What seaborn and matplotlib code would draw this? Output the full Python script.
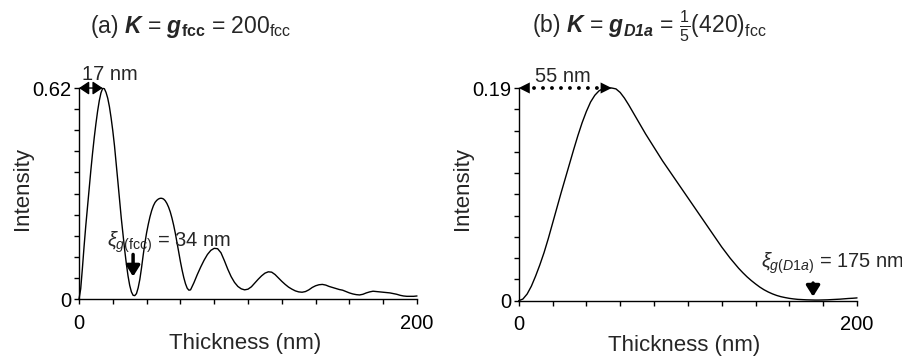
import numpy as np
import matplotlib
matplotlib.use('Agg')
import matplotlib.pyplot as plt
import seaborn as sns

# ============================
# Data
# ============================
# (a) K = g_fcc : thickness (nm) vs intensity
thick_a = [0, 1, 2, 3, 4, 5, 6, 7, 8, 9, 10, 11, 12, 13, 14, 15, 16, 17, 18, 19,
           20, 21, 22, 23, 24, 25, 26, 27, 28, 29, 30, 31, 32, 33, 34, 35, 36, 37,
           38, 39, 40, 41, 42, 43, 44, 45, 46, 47, 48, 49, 50, 51, 52, 53, 54, 55,
           56, 57, 58, 59, 60, 61, 62, 63, 64, 65, 66,
           68, 70, 72, 74, 76, 78, 80, 82, 84, 86, 88, 90, 92, 94, 96, 98, 100,
           102, 104, 106, 108, 110, 112, 114, 116, 118, 120, 122, 124, 126, 128, 130,
           132, 134, 136, 138, 140, 142, 144, 146, 148, 150, 152, 154, 156, 158, 160,
           162, 164, 166, 168, 170, 172, 174, 176, 178, 180, 182, 184, 186, 188, 190,
           192, 194, 196, 198, 200]
int_a = [0.0, 0.03, 0.09, 0.155, 0.215, 0.27, 0.325, 0.378, 0.428, 0.474,
         0.515, 0.552, 0.583, 0.606, 0.619, 0.618, 0.607, 0.59, 0.565, 0.532,
         0.494, 0.45, 0.398, 0.345, 0.29, 0.238, 0.19, 0.145, 0.104, 0.068,
         0.04, 0.021, 0.011, 0.01, 0.016, 0.033, 0.058, 0.092, 0.13, 0.165,
         0.195, 0.22, 0.242, 0.26, 0.274, 0.284, 0.29, 0.294, 0.296, 0.296,
         0.294, 0.289, 0.281, 0.27, 0.256, 0.238, 0.217, 0.193, 0.166, 0.138,
         0.11, 0.085, 0.063, 0.045, 0.032, 0.026, 0.027,
         0.048, 0.072, 0.094, 0.114, 0.131, 0.143, 0.149, 0.148, 0.136, 0.113,
         0.088, 0.066, 0.049, 0.037, 0.03, 0.027, 0.029,
         0.036, 0.047, 0.058, 0.068, 0.076, 0.08, 0.079, 0.072, 0.062, 0.052,
         0.043, 0.035, 0.029, 0.024, 0.021,
         0.02, 0.022, 0.027, 0.034, 0.039, 0.042, 0.043, 0.041, 0.037, 0.034,
         0.031, 0.028, 0.026, 0.022, 0.018,
         0.015, 0.013, 0.012, 0.014, 0.018, 0.021, 0.023, 0.022, 0.021, 0.02,
         0.019, 0.018, 0.016, 0.014, 0.011,
         0.009, 0.008, 0.008, 0.008, 0.009]

# (b) K = g_D1a : thickness (nm) vs intensity
thick_b = [0, 2.5, 5, 7.5, 10, 12.5, 15, 17.5, 20, 22.5, 25, 27.5, 30, 32.5, 35,
           37.5, 40, 42.5, 45, 47.5, 50, 52.5, 55, 57.5, 60, 62.5, 65, 67.5, 70,
           72.5, 75, 77.5, 80, 82.5, 85, 87.5, 90, 92.5, 95, 97.5, 100, 102.5, 105,
           107.5, 110, 112.5, 115, 117.5, 120, 122.5, 125, 127.5, 130, 132.5, 135,
           137.5, 140, 142.5, 145, 147.5, 150, 152.5, 155, 157.5, 160, 162.5, 165,
           167.5, 170, 172.5, 175, 177.5, 180, 182.5, 185, 187.5, 190, 192.5, 195,
           197.5, 200]
int_b = [0.0, 0.0015, 0.006, 0.013, 0.022, 0.032, 0.043, 0.0555, 0.069, 0.0825,
         0.096, 0.109, 0.122, 0.135, 0.1475, 0.159, 0.169, 0.1775, 0.1835, 0.1875,
         0.1895, 0.19, 0.19, 0.1892, 0.186, 0.181, 0.175, 0.1685, 0.162, 0.1555,
         0.149, 0.143, 0.137, 0.131, 0.125, 0.1195, 0.114, 0.1085, 0.103, 0.0975,
         0.092, 0.0865, 0.081, 0.0755, 0.07, 0.0645, 0.059, 0.0535, 0.048, 0.043,
         0.038, 0.0335, 0.029, 0.025, 0.0213, 0.018, 0.015, 0.0122, 0.0098, 0.0078,
         0.0061, 0.0047, 0.0036, 0.0028, 0.0021, 0.0016, 0.0012, 0.001, 0.0008,
         0.0007, 0.0006, 0.0006, 0.0007, 0.0008, 0.001, 0.0012, 0.0014, 0.0017,
         0.002, 0.0022, 0.0025]

ymax_a = 0.62
ymax_b = 0.19

# ============================
# Style
# ============================
sns.set_style('ticks')
plt.rcParams['font.family'] = ['Liberation Sans', 'DejaVu Sans']
plt.rcParams['mathtext.fontset'] = 'custom'
plt.rcParams['mathtext.rm'] = 'Liberation Sans'
plt.rcParams['mathtext.it'] = 'Liberation Sans:italic'
plt.rcParams['mathtext.bf'] = 'Liberation Sans:bold'
plt.rcParams['mathtext.bfit'] = 'Liberation Sans:italic:bold'

fig = plt.figure(figsize=(9.03, 3.56), dpi=100)
ax_a = fig.add_axes([0.0875, 0.160, 0.3743, 0.5927])
ax_b = fig.add_axes([0.5744, 0.1553, 0.3747, 0.5975])


def style_axis(ax, ymax, ytop_label):
    ax.set_xlim(0, 200)
    ax.set_ylim(0, ymax)
    sns.despine(ax=ax)
    for s in ['left', 'bottom']:
        ax.spines[s].set_linewidth(1)
        ax.spines[s].set_color('black')
    ax.set_xticks(np.arange(0, 201, 20))
    ax.set_xticklabels(['0'] + [''] * 9 + ['200'])
    ax.set_yticks(np.linspace(0, ymax, 11))
    ax.set_yticklabels(['0'] + [''] * 9 + [ytop_label])
    ax.tick_params(direction='out', length=3.5, width=1, color='black',
                   labelsize=14.5, labelcolor='black')
    ax.tick_params(axis='x', pad=7)
    ax.tick_params(axis='y', pad=2)
    ax.set_xlabel('Thickness (nm)', fontsize=16)
    ax.set_ylabel('Intensity', fontsize=16)
    ax.xaxis.set_label_coords(0.49, -0.16)
    ax.yaxis.set_label_coords(-0.135, 0.526)


# ============================
# (a)
# ============================
sns.lineplot(x=thick_a, y=int_a, ax=ax_a, color='black', lw=1.0, clip_on=False)
style_axis(ax_a, ymax_a, '0.62')

ax_a.annotate('', xy=(0, 0.62), xytext=(14, 0.62), annotation_clip=False,
              arrowprops=dict(arrowstyle='<|-|>,head_length=0.3,head_width=0.2',
                              color='black', lw=1, shrinkA=0, shrinkB=0,
                              mutation_scale=20))
ax_a.text(18.3, 0.643, '17 nm', ha='center', va='baseline', fontsize=14.5)

ax_a.annotate('', xy=(32, 0.066), xytext=(32, 0.131),
              arrowprops=dict(arrowstyle='-|>,head_length=0.32,head_width=0.2',
                              color='black', lw=2.5, shrinkA=0, shrinkB=0,
                              mutation_scale=20))
ax_a.text(16.6, 0.154, r'$\xi_{g\mathrm{(fcc)}}$ = 34 nm', fontsize=14.5,
          va='baseline')

# ============================
# (b)
# ============================
sns.lineplot(x=thick_b, y=int_b, ax=ax_b, color='black', lw=1.0, clip_on=False)
style_axis(ax_b, ymax_b, '0.19')

head = dict(arrowstyle='-|>,head_length=0.4,head_width=0.2', color='black',
            lw=0, shrinkA=0, shrinkB=0, mutation_scale=20)
ax_b.annotate('', xy=(0, 0.19), xytext=(8, 0.19), arrowprops=head,
              annotation_clip=False)
ax_b.annotate('', xy=(55, 0.19), xytext=(47, 0.19), arrowprops=head,
              annotation_clip=False)
ax_b.plot([9, 47], [0.19, 0.19], color='black', lw=2.8,
          ls=(0, (0.01, 2.3)), dash_capstyle='round', clip_on=False)
ax_b.text(26.1, 0.1956, '55 nm', ha='center', va='baseline', fontsize=14.5)

ax_b.annotate('', xy=(174, 0.0036), xytext=(174, 0.0158),
              arrowprops=dict(arrowstyle='-|>,head_length=0.32,head_width=0.2',
                              color='black', lw=2.5, shrinkA=0, shrinkB=0,
                              mutation_scale=20))
ax_b.text(143.4, 0.0298, r'$\xi_{\mathit{g(D1a)}}$ = 175 nm', fontsize=14.5,
          va='baseline', clip_on=False)

# ============================
# Titles
# ============================
fig.text(0.0997, 0.907,
         r'(a) $\mathbfit{K}$ = $\mathbfit{g}_{\mathbf{fcc}}$ = 200$_{\mathrm{fcc}}$',
         fontsize=16.5, va='baseline', ha='left')
fig.text(0.589, 0.907,
         r'(b) $\mathbfit{K}$ = $\mathbfit{g}_{\mathbfit{D1a}}$ = $\frac{1}{5}$(420)$_{\mathrm{fcc}}$',
         fontsize=16.5, va='baseline', ha='left')

fig.savefig('out.png', dpi=100)
